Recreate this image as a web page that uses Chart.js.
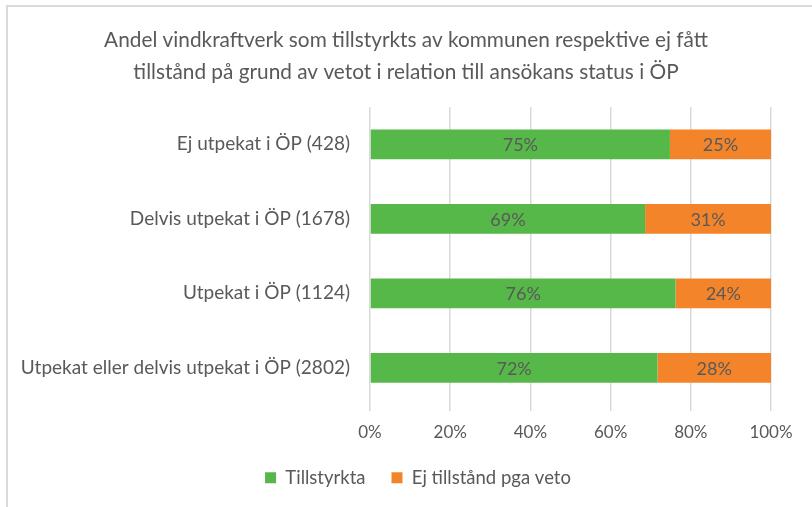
<!DOCTYPE html>
<html>
<head>
<meta charset="utf-8">
<script src="https://cdn.jsdelivr.net/npm/chart.js@4/dist/chart.umd.min.js"></script>
<style>
    html, body { margin: 0; padding: 0; background: #fff; }
    #wrap { position: relative; width: 812px; height: 507px; overflow: hidden; }
    #frame {
        position: absolute; left: 6px; top: 5px; width: 900px; height: 600px;
        border-left: 2px solid #d9d9d9; border-top: 2px solid #d9d9d9;
        pointer-events: none;
    }
    canvas { position: absolute; left: 0; top: 0; }
</style>
</head>
<body>
<div id="wrap">
    <div id="frame"></div>
    <canvas id="chart" width="812" height="507"></canvas>
</div>
<script>
// Data
const categories = [
    "Ej utpekat i ÖP (428)",
    "Delvis utpekat i ÖP (1678)",
    "Utpekat i ÖP (1124)",
    "Utpekat eller delvis utpekat i ÖP (2802)",
];
const tillstyrkta = [74.8, 68.6, 76.2, 71.7];
const ejTillstand = [25.2, 31.4, 23.8, 28.3];
const seriesNames = ["Tillstyrkta", "Ej tillstånd pga veto"];
const xTicks = [0, 20, 40, 60, 80, 100];

const titleLines = [
    "Andel vindkraftverk som tillstyrkts av kommunen respektive ej fått",
    "tillstånd på grund av vetot i relation till ansökans status i ÖP",
];

const FONT = "Lato, 'Open Sans', sans-serif";
const TEXT = "#595959";

/**
 * Draws the percentage label in the middle of each bar segment
 */
const segmentLabels = {
    id: "segmentLabels",
    afterDatasetsDraw(chart) {
        const ctx = chart.ctx;
        ctx.save();
        ctx.font = "18px " + FONT;
        ctx.fillStyle = TEXT;
        ctx.textAlign = "center";
        ctx.textBaseline = "middle";
        chart.data.datasets.forEach((ds, i) => {
            const meta = chart.getDatasetMeta(i);
            meta.data.forEach((bar, j) => {
                const cx = (bar.x + bar.base) / 2;
                ctx.fillText(Math.round(ds.data[j]) + "%", cx, bar.y + 1);
            });
        });
        ctx.restore();
    },
};

/**
 * Small layout tweaks: let the long category label run past the padding
 * (otherwise it gets clipped) and nudge the legend a bit right like Excel does
 */
const layoutTweaks = {
    id: "layoutTweaks",
    afterLayout(chart) {
        chart.scales.y.left = 0;
        chart.legend.left += 12;
        chart.legend.right += 12;
    },
};

new Chart(document.getElementById("chart"), {
    type: "bar",
    data: {
        labels: categories,
        datasets: [
            {
                label: seriesNames[0],
                data: tillstyrkta,
                backgroundColor: "#56b848",
            },
            {
                label: seriesNames[1],
                data: ejTillstand,
                backgroundColor: "#f4842a",
            },
        ],
    },
    options: {
        indexAxis: "y",
        responsive: false,
        animation: false,
        categoryPercentage: 0.4,
        barPercentage: 1,
        layout: {
            padding: { left: 41, right: 41, top: 0, bottom: 10 },
        },
        scales: {
            x: {
                stacked: true,
                min: 0,
                max: 100,
                afterBuildTicks: (scale) => {
                    scale.ticks = xTicks.map((v) => ({ value: v }));
                },
                afterFit: (scale) => {
                    scale.height -= 11;
                },
                ticks: {
                    callback: (v) => v + "%",
                    color: TEXT,
                    font: { family: FONT, size: 17 },
                    padding: 11,
                },
                grid: {
                    color: "#d9d9d9",
                    lineWidth: 1.5,
                    tickLength: 6,
                    drawTicks: true,
                },
                border: { display: false },
            },
            y: {
                stacked: true,
                afterFit: (scale) => {
                    scale.width = 329;
                },
                ticks: {
                    color: TEXT,
                    font: { family: FONT, size: 19 },
                    padding: 20,
                },
                grid: { display: false, drawTicks: false },
                border: { display: false },
            },
        },
        plugins: {
            title: {
                display: true,
                text: titleLines,
                color: TEXT,
                font: { family: FONT, size: 20.8, weight: "normal", lineHeight: 1.54 },
                padding: { top: 24, bottom: 19 },
            },
            legend: {
                position: "bottom",
                labels: {
                    color: TEXT,
                    font: { family: FONT, size: 18.5 },
                    boxWidth: 11,
                    boxHeight: 11,
                    padding: 26,
                },
            },
            tooltip: { enabled: false },
        },
    },
    plugins: [segmentLabels, layoutTweaks],
});
</script>
</body>
</html>
